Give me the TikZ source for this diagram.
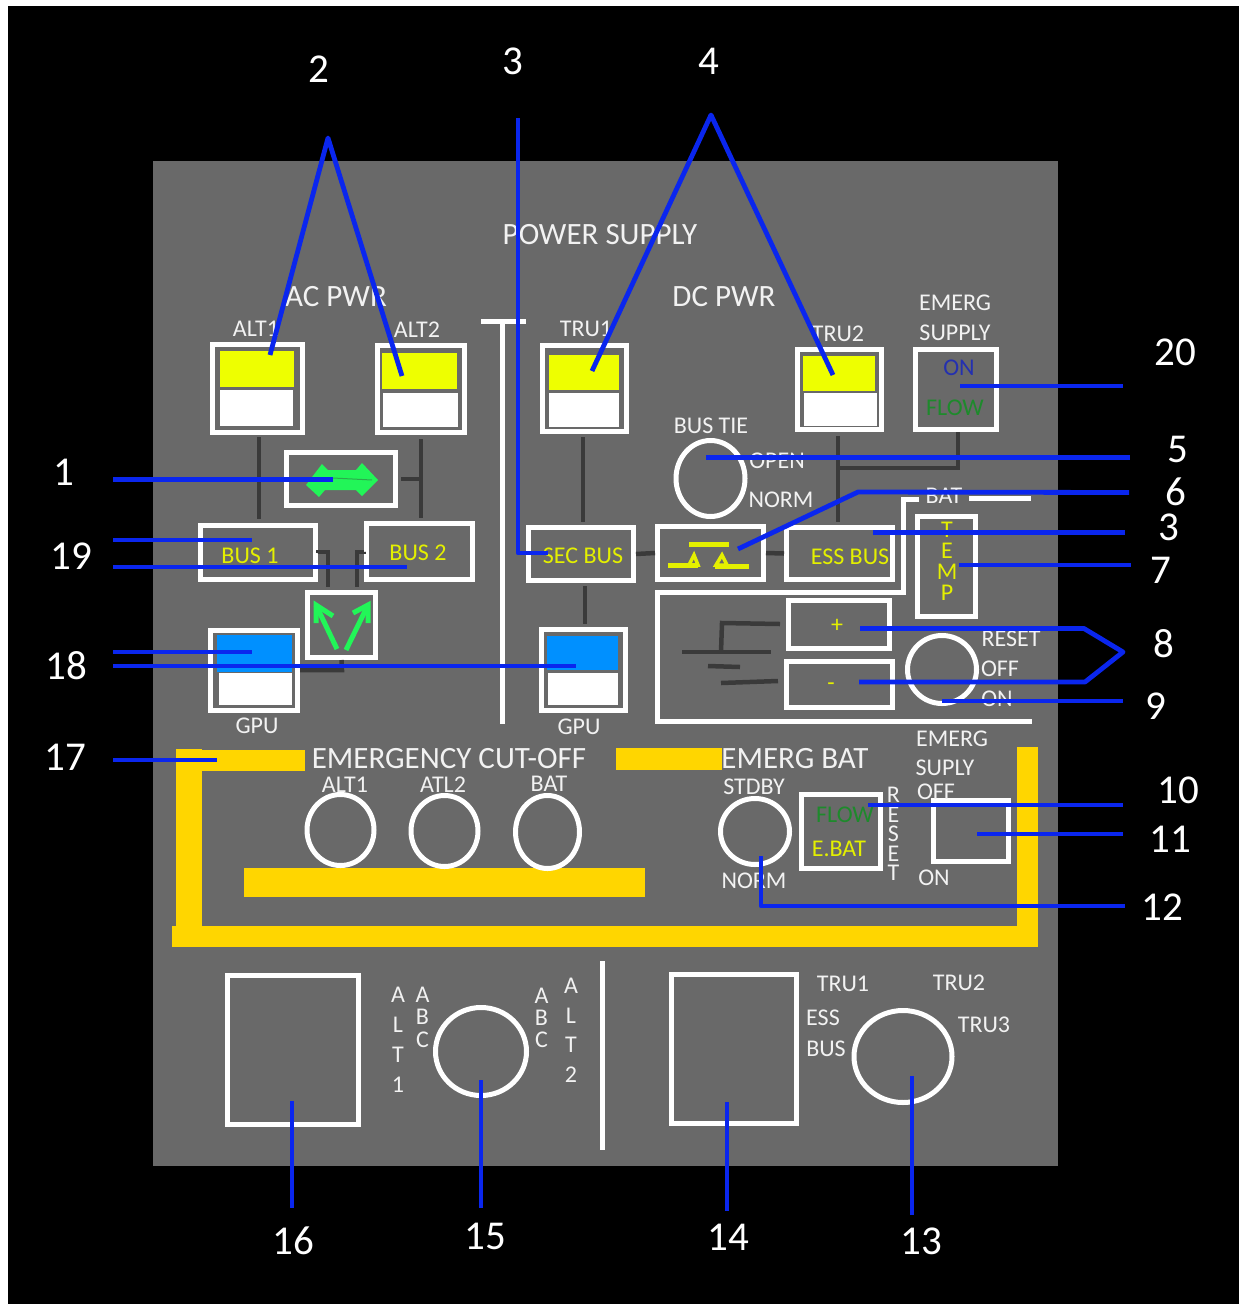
\documentclass[tikz,border=0pt]{standalone}
\usepackage{fontspec}
\setmainfont{Carlito}
\usetikzlibrary{shapes.geometric}
\definecolor{panel}{HTML}{696969}
\definecolor{wire}{HTML}{3A3A3A}
\definecolor{lead}{HTML}{0A26EE}
\definecolor{gold}{HTML}{FFD600}
\definecolor{lamp}{HTML}{EEFF00}
\definecolor{tblue}{HTML}{0090FF}
\definecolor{txtw}{HTML}{F2F2F2}
\definecolor{txty}{HTML}{E4F000}
\definecolor{gflow}{HTML}{1E8A2C}
\definecolor{gon}{HTML}{2430B0}
\definecolor{garrow}{HTML}{22F558}
\tikzset{
  wbox/.style={draw=white,line width=5pt,inner sep=0pt,outer sep=2.5pt},
  wcirc/.style={ellipse,draw=white,line width=5pt,inner sep=0pt,outer sep=0pt},
  fbox/.style={inner sep=0pt,outer sep=0pt},
  wirec/.style={draw=wire,line width=4.5pt},
  wline/.style={draw=white,line width=5pt},
  leader/.style={draw=lead,line width=4.8pt,line join=round},
  garr/.style={draw=garrow,line width=5pt},
  ysym/.style={draw=txty,line width=5pt},
  num/.style={text=white,font=\fontsize{41}{41}\selectfont,inner sep=0pt},
  big/.style={text=txtw,font=\fontsize{31}{31}\selectfont,inner sep=0pt,yshift=-0.8pt},
  lab/.style={text=txtw,font=\fontsize{24}{24}\selectfont,inner sep=0pt,yshift=-0.8pt},
  ylab/.style={text=txty,font=\fontsize{24}{24}\selectfont,inner sep=0pt,yshift=-0.8pt},
  stackw/.style={text=txtw,align=center,inner sep=0pt},
  stacky/.style={text=txty,align=center,inner sep=0pt}
}
\newcommand\bx[5]{\pgfmathsetmacro\ww{#4-#2-5}\pgfmathsetmacro\hh{#5-#3-5}\pgfmathsetmacro\cx{(#2+#4)/2}\pgfmathsetmacro\cy{(#3+#5)/2}\node[wbox,minimum width=\ww pt,minimum height=\hh pt] (#1) at (\cx,\cy) {};}
\newcommand\fl[6]{\pgfmathsetmacro\ww{#5-#3}\pgfmathsetmacro\hh{#6-#4}\pgfmathsetmacro\cx{(#3+#5)/2}\pgfmathsetmacro\cy{(#4+#6)/2}\node[fbox,fill=#2,minimum width=\ww pt,minimum height=\hh pt] (#1) at (\cx,\cy) {};}
\newcommand\el[5]{\pgfmathsetmacro\ww{#4-5}\pgfmathsetmacro\hh{#5-5}\node[wcirc,minimum width=\ww pt,minimum height=\hh pt] (#1) at (#2,#3) {};}
\begin{document}
\begin{tikzpicture}[x=1pt,y=-1pt]
\useasboundingbox (0,0) rectangle (1239,1304);
\fl{page}{black}{8}{6}{1239}{1304}
\fl{pan}{panel}{153}{161}{1058}{1166}

% gold bars
\fl{g1}{gold}{176}{749}{202}{935}
\fl{g2}{gold}{202}{750}{305}{771}
\fl{g3}{gold}{616}{748}{722}{770}
\fl{g4}{gold}{1017}{747}{1038}{926}
\fl{g5}{gold}{172}{926}{1038}{947}
\fl{g6}{gold}{244}{868}{645}{897}

% lamp fills
\fl{a1y}{lamp}{220}{351}{294}{387}
\fl{a1w}{white}{220}{390}{293}{426}
\fl{a2y}{lamp}{382}{353}{457}{389}
\fl{a2w}{white}{383}{393}{458}{427}
\fl{t1y}{lamp}{549}{355}{619}{390}
\fl{t1w}{white}{549}{393}{619}{427}
\fl{t2y}{lamp}{803}{356}{875}{391}
\fl{t2w}{white}{804}{393}{877}{426}
\fl{g1b}{tblue}{217}{635}{292}{672}
\fl{g1w}{white}{219}{673}{292}{705}
\fl{g2b}{tblue}{547}{636}{618}{670}
\fl{g2w}{white}{548}{673}{618}{705}

% boxes
\bx{alt1}{210}{342}{305}{435}
\bx{alt2}{375}{343}{467}{435}
\bx{tru1}{540}{343}{629}{434}
\bx{tru2}{795}{347}{884}{432}
\bx{esup}{913}{347}{999}{432}
\bx{xfer}{284}{450}{398}{508}
\bx{bus1}{198}{523}{318}{582}
\bx{bus2}{364}{521}{475}{582}
\bx{seca}{526}{525}{636}{583}
\bx{cont}{655}{524}{766}{582}
\bx{essb}{784}{525}{895}{582}
\bx{temp}{915}{514}{978}{619}
\bx{plus}{786}{598}{892}{651}
\bx{minus}{784}{659}{895}{710}
\bx{arrb}{305}{590}{378}{660}
\bx{gpu1}{208}{628}{300}{713}
\bx{gpu2}{539}{627}{628}{713}
\bx{flowb}{799}{792}{883}{871}
\bx{supb}{931}{798}{1011}{864}
\bx{sq1}{225}{973}{361}{1127}
\bx{sq2}{669}{972}{799}{1126}

% circles
\el{tie}{710.5}{478.5}{74}{81}
\el{rst}{942}{669.5}{74}{73}
\el{c1}{340.5}{830}{72}{76}
\el{c2}{444.5}{831}{72}{76}
\el{c3}{547.5}{832}{69}{78}
\el{c4}{755}{831.5}{74}{71}
\el{c5}{481}{1051.5}{96}{93}
\el{c6}{903}{1056.5}{103}{97}

% white separator lines
\coordinate (s1) at (502.5,320);
\coordinate (s2) at (502.5,724);
\coordinate (s3) at (481,321);
\coordinate (s4) at (526,321);
\coordinate (s5) at (602,961);
\coordinate (s6) at (602,1150);
\draw[wline] (s1)--(s2);
\draw[wline] (s3)--(s4);
\draw[wline] (s5)--(s6);
\coordinate (o1) at (919,499);
\coordinate (o2) at (903,499);
\coordinate (o3) at (903,592);
\coordinate (o4) at (657,592);
\coordinate (o5) at (657,721);
\coordinate (o6) at (1032,721);
\coordinate (o7) at (969,498);
\coordinate (o8) at (1031,498);
\draw[wline] (o1)--(o2)--(o3)--(o4)--(o5)--(o6);
\draw[wline] (o7)--(o8);

% dark wires
\draw[wirec,shorten <=2pt,shorten >=4pt] ([xshift=1.5pt]alt1.south)--([xshift=1pt]bus1.north);
\draw[wirec,shorten <=4pt,shorten >=3pt] (alt2.south)--([xshift=1.5pt]bus2.north);
\coordinate (j1) at (421,479);
\draw[wirec,shorten <=3pt] (xfer.east)--(j1);
\draw[wirec,shorten <=3pt,shorten >=3pt] ([xshift=-1.5pt]tru1.south)--([xshift=2pt]seca.north);
\draw[wirec,shorten <=3pt,shorten >=3pt] ([xshift=4pt]seca.south)--([xshift=1.5pt]gpu2.north);
\draw[wirec] (seca.east)--(cont.west);
\draw[wirec] (cont.east)--(essb.west);
\draw[wirec,shorten <=4pt,shorten >=3pt] ([xshift=-1.5pt]tru2.south)--([xshift=-1.5pt]essb.north);
\coordinate (j2) at (838,468);
\coordinate (j3) at (958,468);
\draw[wirec] ([xshift=2pt]esup.south)--(j3)--(j2);
\coordinate (j4) at (328,552);
\coordinate (j5) at (328,587);
\draw[wirec] (bus1.east)|-(j4)--(j5);
\coordinate (j6) at (357,552);
\coordinate (j7) at (357,587);
\draw[wirec] (bus2.west)|-(j6)--(j7);
\coordinate (j8) at (342,670);
\coordinate (j9) at (300,670);
\draw[wirec] (arrb.south)--(j8)--(j9);
% battery symbol
\coordinate (b1) at (780,624);
\coordinate (b2) at (722,623);
\coordinate (b3) at (721,652);
\coordinate (b4) at (682,652);
\coordinate (b5) at (771,652);
\coordinate (b6) at (708,666);
\coordinate (b7) at (740,667);
\coordinate (b8) at (721,683);
\coordinate (b9) at (778,681);
\draw[wirec] (b1)--(b2)--(b3);
\draw[wirec] (b4)--(b5);
\draw[wirec] (b6)--(b7);
\draw[wirec] (b8)--(b9);

% green arrows
\fill[garrow] (378,480)--(362,463)--(356,470)--(328,470)--(322,464)--(306,485)--(319,497)--(325,490)--(356,490)--(362,496)--cycle;
\draw[wire!40!garrow,line width=1pt] (333,478)--(372,480);
\coordinate (ar1) at (337,649);
\coordinate (ar2) at (316,605);
\coordinate (ar3) at (316,623);
\coordinate (ar4) at (333,616);
\coordinate (ar5) at (346,650);
\coordinate (ar6) at (368,605);
\coordinate (ar7) at (353,613);
\coordinate (ar8) at (368,623);
\draw[garr] (ar1)--(ar2);
\draw[garr] (ar3)--(ar2)--(ar4);
\draw[garr] (ar5)--(ar6);
\draw[garr] (ar7)--(ar6)--(ar8);

% contact symbol
\coordinate (y1) at (689,544);
\coordinate (y2) at (729,544);
\coordinate (y3) at (668,565);
\coordinate (y4) at (698,565);
\coordinate (y5) at (715,566);
\coordinate (y6) at (749,566);
\coordinate (y7) at (694,555);
\coordinate (y8) at (689,565);
\coordinate (y9) at (698,565);
\coordinate (y10) at (722,555);
\coordinate (y11) at (716,565);
\coordinate (y12) at (727,565);
\draw[ysym] (y1)--(y2);
\draw[ysym] (y3)--(y4);
\draw[ysym] (y5)--(y6);
\draw[draw=txty,line width=3.5pt] (y7)--(y8)--(y9)--cycle;
\draw[draw=txty,line width=3.5pt] (y10)--(y11)--(y12)--cycle;

% texts
\node[big] (tps) at (600,234) {POWER SUPPLY};
\node[big] (tac) at (336,296) {AC PWR};
\node[big] (tdc) at (724,296) {DC PWR};
\node[big] (tec) at (449,758) {EMERGENCY CUT-OFF};
\node[big] (teb) at (795,758) {EMERG BAT};
\node[lab] (l1) at (256,328) {ALT1};
\node[lab] (l2) at (417,329) {ALT2};
\node[lab] (l3) at (586,328) {TRU1};
\node[lab] (l4) at (838,333) {TRU2};
\node[lab] (l5) at (955,302) {EMERG};
\node[lab] (l6) at (955,332) {SUPPLY};
\node[lab,text=gon] (l7) at (959,367) {ON};
\node[lab,text=gflow] (l8) at (955,407) {FLOW};
\node[lab] (l9) at (711,425) {BUS TIE};
\node[lab] (l10) at (777,460) {OPEN};
\node[lab] (l11) at (781,499) {NORM};
\node[lab] (l12) at (944,495) {BAT};
\node[ylab] (l13) at (250,555) {BUS 1};
\node[ylab] (l14) at (418,552) {BUS 2};
\node[ylab] (l15) at (583,555) {SEC BUS};
\node[ylab] (l16) at (850,556) {ESS BUS};
\node[stacky,font=\fontsize{24}{21}\selectfont] (ttemp) at (947,561) {T\\E\\M\\P};
\node[lab] (l17) at (1011,638) {RESET};
\node[lab] (l18) at (1000,668) {OFF};
\node[lab] (l19) at (997,698) {ON};
\node[ylab] (l20) at (837,625) {+};
\node[ylab] (l21) at (831,686) {-};
\node[lab] (l22) at (257,725) {GPU};
\node[lab] (l23) at (579,726) {GPU};
\node[lab] (l24) at (345,784) {ALT1};
\node[lab] (l25) at (443,784) {ATL2};
\node[lab] (l26) at (549,783) {BAT};
\node[lab] (l27) at (754,786) {STDBY};
\node[lab] (l28) at (952,738) {EMERG};
\node[lab] (l29) at (945,767) {SUPLY};
\node[lab] (l30) at (936,791) {OFF};
\node[lab] (l31) at (934,877) {ON};
\node[lab] (l32) at (754,880) {NORM};
\node[lab,text=gflow] (l33) at (845,814) {FLOW};
\node[ylab] (l34) at (839,848) {E.BAT};
\node[stackw,font=\fontsize{24}{19.5}\selectfont] (tres) at (893.5,834) {R\\E\\S\\E\\T};
\node[stackw,font=\fontsize{24}{30}\selectfont] (talt1) at (398,1040) {A\\L\\T\\1};
\node[stackw,font=\fontsize{24}{22.5}\selectfont] (tabc1) at (422.5,1017) {A\\B\\C};
\node[stackw,font=\fontsize{24}{22}\selectfont] (tabc2) at (541.5,1018) {A\\B\\C};
\node[stackw,font=\fontsize{24}{29.5}\selectfont] (talt2) at (571,1030.5) {A\\L\\T\\2};
\node[lab] (l35) at (843,983) {TRU1};
\node[lab] (l36) at (959,982) {TRU2};
\node[lab] (l37) at (984,1024) {TRU3};
\node[lab] (l38) at (823,1017) {ESS};
\node[lab] (l39) at (826,1048) {BUS};

% numbers
\node[num] (n2) at (319,69) {2};
\node[num] (n3a) at (513,61) {3};
\node[num] (n4) at (709,61) {4};
\node[num] (n20) at (1175,352) {20};
\node[num] (n5) at (1178,449) {5};
\node[num] (n6) at (1176,492) {6};
\node[num] (n3b) at (1169,527) {3};
\node[num] (n7) at (1161,570) {7};
\node[num] (n8) at (1164,644) {8};
\node[num] (n9) at (1156,706) {9};
\node[num] (n10) at (1178,790) {10};
\node[num] (n11) at (1170,839) {11};
\node[num] (n12) at (1162,907) {12};
\node[num] (n13) at (921,1241) {13};
\node[num] (n14) at (728,1237) {14};
\node[num] (n15) at (485,1236) {15};
\node[num] (n16) at (293,1241) {16};
\node[num] (n17) at (65,757) {17};
\node[num] (n18) at (66,666) {18};
\node[num] (n19) at (71,556) {19};
\node[num] (n1) at (64,472) {1};

% leaders
\coordinate (p2) at (328,138);
\coordinate (p2a) at (270,355);
\coordinate (p2b) at (402,376);
\draw[leader] (p2a)--(p2)--(p2b);
\coordinate (p3a) at (518,118);
\coordinate (p3b) at (518,553);
\coordinate (p3c) at (548,553);
\draw[leader] (p3a)--(p3b)--(p3c);
\coordinate (p4) at (711,115);
\coordinate (p4a) at (592,371);
\coordinate (p4b) at (833,375);
\draw[leader] (p4a)--(p4)--(p4b);
\coordinate (p20a) at (960,386);
\coordinate (p20b) at (1123,386);
\draw[leader] (p20a)--(p20b);
\coordinate (p5a) at (706,457.5);
\coordinate (p5b) at (1130,457.5);
\draw[leader] (p5a)--(p5b);
\coordinate (p6a) at (738,549);
\coordinate (p6b) at (858,492);
\coordinate (p6c) at (1129,492.5);
\draw[leader] (p6a)--(p6b)--(p6c);
\coordinate (p3d) at (873,532.5);
\coordinate (p3e) at (1125,532.5);
\draw[leader] (p3d)--(p3e);
\coordinate (p7a) at (959,565);
\coordinate (p7b) at (1131,565);
\draw[leader] (p7a)--(p7b);
\coordinate (p8a) at (860,628.5);
\coordinate (p8b) at (1084,628.5);
\coordinate (p8c) at (1123,652);
\coordinate (p8d) at (1085,682);
\coordinate (p8e) at (859,682);
\draw[leader] (p8a)--(p8b)--(p8c)--(p8d)--(p8e);
\coordinate (p9a) at (942,701);
\coordinate (p9b) at (1123,701);
\draw[leader] (p9a)--(p9b);
\coordinate (p10a) at (868,805);
\coordinate (p10b) at (1123,805);
\draw[leader] (p10a)--(p10b);
\coordinate (p11a) at (977,834);
\coordinate (p11b) at (1123,834);
\draw[leader] (p11a)--(p11b);
\coordinate (p12a) at (761,856);
\coordinate (p12b) at (761,906);
\coordinate (p12c) at (1125,906);
\draw[leader] (p12a)--(p12b)--(p12c);
\coordinate (p13a) at (912,1076);
\coordinate (p13b) at (912,1215);
\draw[leader] (p13a)--(p13b);
\coordinate (p14a) at (727,1102);
\coordinate (p14b) at (727,1211);
\draw[leader] (p14a)--(p14b);
\coordinate (p15a) at (481,1080);
\coordinate (p15b) at (481,1208);
\draw[leader] (p15a)--(p15b);
\coordinate (p16a) at (292,1101);
\coordinate (p16b) at (292,1208);
\draw[leader] (p16a)--(p16b);
\coordinate (p17a) at (113,760);
\coordinate (p17b) at (217,760);
\draw[leader] (p17a)--(p17b);
\coordinate (p18a) at (113,652);
\coordinate (p18b) at (252,652);
\draw[leader] (p18a)--(p18b);
\coordinate (p18c) at (113,666);
\coordinate (p18d) at (576,666);
\draw[leader] (p18c)--(p18d);
\coordinate (p19a) at (113,540);
\coordinate (p19b) at (252,540);
\draw[leader] (p19a)--(p19b);
\coordinate (p19c) at (113,567);
\coordinate (p19d) at (407,567);
\draw[leader] (p19c)--(p19d);
\coordinate (p1a) at (113,479.5);
\coordinate (p1b) at (333,479.5);
\draw[leader] (p1a)--(p1b);
\end{tikzpicture}
\end{document}
